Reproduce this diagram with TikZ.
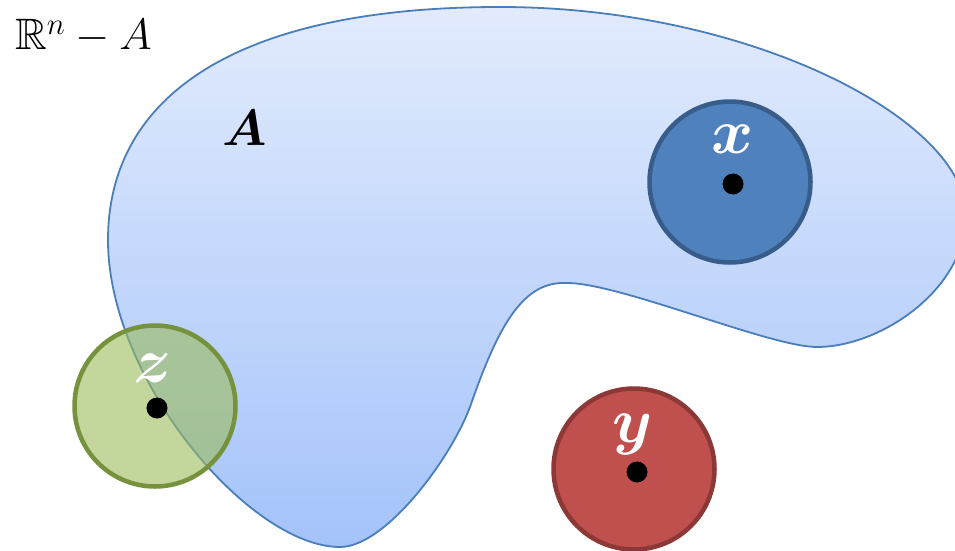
\RequirePackage{fix-cm}
\documentclass[tikz,border=0pt]{standalone}
\usepackage{amssymb}
\usepackage{bm}
\definecolor{blobtop}{RGB}{226,235,253}
\definecolor{blobbot}{RGB}{164,195,250}
\definecolor{blobline}{RGB}{74,126,187}
\definecolor{xfill}{RGB}{79,129,189}
\definecolor{xline}{RGB}{56,93,138}
\definecolor{yfill}{RGB}{192,80,77}
\definecolor{yline}{RGB}{140,56,54}
\definecolor{zfill}{RGB}{155,187,89}
\definecolor{zline}{RGB}{118,146,60}
\tikzset{
  ball/.style={circle, minimum size=161pt, inner sep=0pt, line width=4.5pt},
  pointdot/.style={circle, fill=black, minimum size=21pt, inner sep=0pt},
  balllabel/.style={text=white, inner sep=0pt, font=\fontsize{64}{64}\selectfont},
}
\begin{document}
\begin{tikzpicture}[x=1pt,y=-1pt]
\clip (0,0) rectangle (955,551);
\fill[white] (0,0) rectangle (955,551);
% the set A
\path[top color=blobtop, bottom color=blobbot, draw=blobline, line width=1.8pt]
  (108,240) .. controls (108,100) and (230,7) .. (500,7)
  .. controls (750,7) and (966,120) .. (966,215)
  .. controls (966,290) and (880,347) .. (817,347)
  .. controls (770,347) and (620,283) .. (567,283)
  .. controls (525,281) and (500,320) .. (470,407)
  .. controls (450,460) and (385,547) .. (340,547)
  .. controls (250,547) and (108,380) .. cycle;
% labels of the regions
\node[anchor=base west, inner sep=0pt, font=\fontsize{44}{44}\selectfont] (rn) at (15,50) {$\mathbb{R}^n - A$};
\node[inner sep=0pt, font=\fontsize{51}{51}\selectfont] (alab) at (245,128) {$\bm{A}$};
% balls
\node[ball, fill=xfill, draw=xline] (xball) at (730,182) {};
\node[ball, fill=yfill, draw=yline] (yball) at (634,469) {};
\node[ball, fill=zfill, fill opacity=0.6, draw=zline] (zball) at (155,406) {};
% points
\node[pointdot] (xdot) at (733,184) {};
\node[pointdot] (ydot) at (637,472) {};
\node[pointdot] (zdot) at (157,408) {};
% point labels
\node[balllabel] (xlab) at (733,139) {$\bm{x}$};
\node[balllabel] (ylab) at (633,434) {$\bm{y}$};
\node[balllabel] (zlab) at (153,368) {$\bm{z}$};
\end{tikzpicture}
\end{document}
